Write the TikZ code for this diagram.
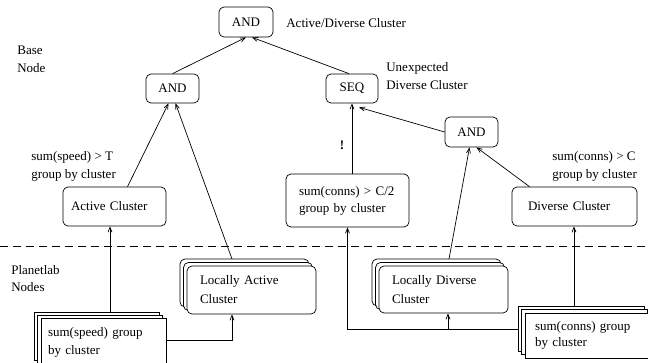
\documentclass[tikz,border=0pt]{standalone}
\usepackage{fontspec}
\setmainfont{Liberation Serif}
\usetikzlibrary{arrows.meta}
\begin{document}
\begin{tikzpicture}[x=1pt,y=-1pt, line width=0.7pt,
  every node/.style={font=\fontsize{13}{18}\selectfont},
  rbox/.style={draw, rounded corners=5pt, fill=white, align=left, inner ysep=0pt},
  sbox/.style={draw, fill=white, align=left, inner ysep=0pt},
  layer/.style={draw, fill=white},
  lbl/.style={anchor=west, align=left, inner sep=0pt},
  arr/.style={-{Straight Barb[length=5pt,width=4pt]}},
  sep/.style={dash pattern=on 8pt off 5pt}
]
\useasboundingbox (0,0) rectangle (648,362);
\clip (0,0) rectangle (648,362);

% separator
\draw[sep] (0,246) -- (648,246);

% operator nodes
\node[rbox, minimum width=54, minimum height=30] (tand) at (246,22) {AND};
\node[rbox, minimum width=53, minimum height=29] (land) at (172.5,88.5) {AND};
\node[rbox, minimum width=52, minimum height=29] (seq) at (352,88.5) {SEQ};
\node[rbox, minimum width=53, minimum height=30] (rand) at (471.5,132) {AND};

% cluster nodes
\node[rbox, minimum height=39, text width=87, inner xsep=8] (ac) at (114.5,206.5) {Active Cluster};
\node[rbox, minimum height=53, text width=97, inner xsep=13, font=\fontsize{13}{17}\selectfont] (cc) at (347.5,200.5) {sum(conns) > C/2\\group by cluster};
\node[rbox, minimum height=39, text width=93, inner xsep=16] (dc) at (574.5,206.5) {Diverse Cluster};

% stacked: Locally Active Cluster
\draw[layer, rounded corners=5pt] (180,259) rectangle (309,307);
\draw[layer, rounded corners=5pt] (183.5,262.5) rectangle (312.5,310.5);
\node[rbox, minimum height=48, text width=103, inner xsep=13, font=\fontsize{13}{19}\selectfont] (la) at (251.5,290) {Locally Active\\Cluster};

% stacked: Locally Diverse Cluster
\draw[layer, rounded corners=5pt] (372,259) rectangle (501,306);
\draw[layer, rounded corners=5pt] (375.5,262.5) rectangle (504.5,309.5);
\node[rbox, minimum height=47, text width=103, inner xsep=13, font=\fontsize{13}{19}\selectfont] (ld) at (443.5,289.5) {Locally Diverse\\Cluster};

% stacked: sum(speed) group by cluster
\draw[layer] (34,312) rectangle (159,360);
\draw[layer] (37.5,315) rectangle (162.5,363);
\node[sbox, minimum height=48, text width=111, inner xsep=7] (ss) at (103.5,342) {sum(speed) group\\by cluster};

% stacked: sum(conns) group by cluster
\draw[layer] (518,306) rectangle (644,351);
\draw[layer] (521.5,309.5) rectangle (647.5,354.5);
\node[sbox, minimum height=45, text width=106, inner xsep=10, font=\fontsize{13}{16.5}\selectfont] (sc) at (588,335.5) {sum(conns) group\\by cluster};

% labels
\node[lbl] (l1) at (286,23) {Active/Diverse Cluster};
\node[lbl] (l2) at (17,59) {Base\\Node};
\node[lbl] (l3) at (386,76) {Unexpected\\Diverse Cluster};
\node[lbl] (l4) at (31,166.5) {sum(speed) > T\\group by cluster};
\node[lbl] (l5) at (552,166) {sum(conns) > C\\group by cluster};
\node[lbl, font=\fontsize{13}{17}\selectfont] (l6) at (11,279) {Planetlab\\Nodes};
\node (bang) at (342,145) {\textbf{!}};

% connector end points on back layers
\coordinate (latop) at (232,259);
\coordinate (ldtop) at (449,259);
\coordinate (sstop) at (110,312);
\coordinate (sctop) at (574,306);
\coordinate (scleft) at (518,329);
\coordinate (junc) at (448,329);

% connectors
\draw[arr] (land.north) -- (tand.south);
\draw[arr] ([xshift=-3pt]seq.north) -- ([xshift=6pt]tand.south);
\draw[arr] ([xshift=13pt]ac.north) -- ([xshift=-4pt]land.south);
\draw[arr] (latop) -- ([xshift=3pt]land.south);
\draw[arr] (cc.north -| seq.south) -- (seq.south);
\draw[arr] (rand.west) -- ([xshift=7pt,yshift=-4pt]seq.south);
\draw[arr] (ldtop) -- ([xshift=-2pt]rand.south);
\draw[arr] ([xshift=-45pt]dc.north) -- ([xshift=5pt]rand.south);
\draw[arr] (sstop) -- (sstop |- ac.south);
\draw[arr] ([yshift=2pt]ss.east) -| ([xshift=-19.5pt]la.south);
\draw[arr] (sctop) -- (sctop |- dc.south);
\draw[arr] (scleft) -| (cc.south);
\draw[arr] (junc) -- (junc |- ld.south);
\end{tikzpicture}
\end{document}
